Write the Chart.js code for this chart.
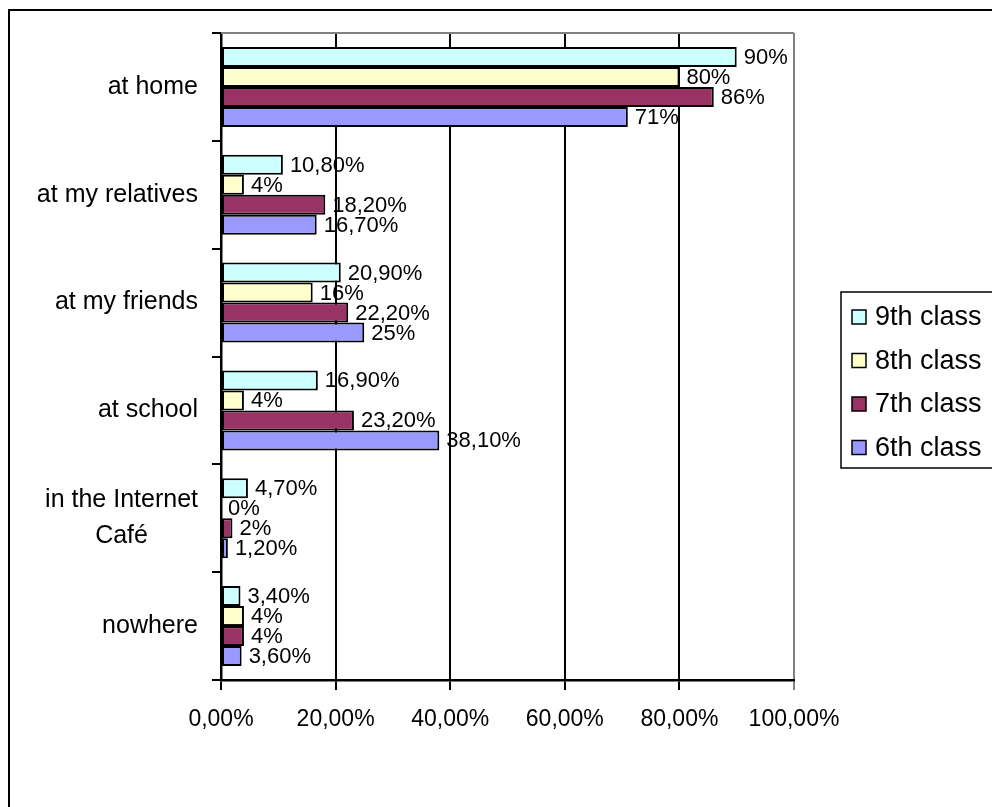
<!DOCTYPE html>
<html>
<head>
<meta charset="utf-8">
<title>Where pupils use the Internet</title>
<script src="https://cdn.jsdelivr.net/npm/chart.js@4.4.1/dist/chart.umd.min.js"></script>
<style>
  body { margin: 0; background: #fff; }
  canvas { display: block; }
</style>
</head>
<body>
<canvas id="placesChart" width="992" height="807"></canvas>
<script>
// places, top to bottom
const places = ['at home', 'at my relatives', 'at my friends', 'at school', ['in the Internet', 'Café'], 'nowhere'];
const classNames = ['9th class', '8th class', '7th class', '6th class'];

// percent of pupils per class
const class9 = [90, 10.8, 20.9, 16.9, 4.7, 3.4];
const class8 = [80, 4, 16, 4, 0, 4];
const class7 = [86, 18.2, 22.2, 23.2, 2, 4];
const class6 = [71, 16.7, 25, 38.1, 1.2, 3.6];

const xTicks = [0, 20, 40, 60, 80, 100];
const colors = ['#CCFFFF', '#FFFFCC', '#993366', '#9999FF'];

const FONT = 'Arial, "Liberation Sans", sans-serif';
Chart.defaults.font.family = FONT;
Chart.defaults.color = '#000';

// 10.8 -> "10,80%", 90 -> "90%"
function valueLabel(v) {
    return (Number.isInteger(v) ? String(v) : v.toFixed(2).replace('.', ',')) + '%';
}
function tickLabel(v) {
    return v.toFixed(2).replace('.', ',') + '%';
}

const extras = {
    id: 'extras',
    beforeDraw(chart) {
        const ctx = chart.ctx;
        ctx.save();
        ctx.fillStyle = '#fff';
        ctx.fillRect(0, 0, chart.width, chart.height);
        // outer frame
        ctx.strokeStyle = '#000';
        ctx.lineWidth = 2;
        ctx.beginPath();
        ctx.moveTo(9, chart.height + 5);
        ctx.lineTo(9, 10);
        ctx.lineTo(chart.width + 5, 10);
        ctx.stroke();
        ctx.restore();
    },
    afterDatasetsDraw(chart) {
        const ctx = chart.ctx;
        ctx.save();
        ctx.font = '22px ' + FONT;
        ctx.fillStyle = '#000';
        ctx.textAlign = 'left';
        ctx.textBaseline = 'middle';
        chart.data.datasets.forEach((ds, i) => {
            chart.getDatasetMeta(i).data.forEach((bar, j) => {
                ctx.fillText(valueLabel(ds.data[j]), bar.x + 7, bar.y + 1);
            });
        });
        ctx.restore();
    },
    afterDraw(chart) {
        const ctx = chart.ctx;
        const area = chart.chartArea;
        const yScale = chart.scales.y;
        ctx.save();

        // plot frame top
        ctx.strokeStyle = '#808080';
        ctx.lineWidth = 2;
        ctx.beginPath();
        ctx.moveTo(area.left, area.top);
        ctx.lineTo(area.right, area.top);
        ctx.stroke();

        // category labels
        ctx.fillStyle = '#000';
        ctx.font = '25px ' + FONT;
        ctx.textBaseline = 'middle';
        const labelRight = 198;
        places.forEach((p, i) => {
            const y = yScale.getPixelForValue(i);
            if (Array.isArray(p)) {
                const w = Math.max(...p.map(s => ctx.measureText(s).width));
                ctx.textAlign = 'center';
                p.forEach((line, k) => {
                    ctx.fillText(line, labelRight - w / 2, y + (k - (p.length - 1) / 2) * 36);
                });
            } else {
                ctx.textAlign = 'right';
                ctx.fillText(p, labelRight, y);
            }
        });

        // legend
        ctx.strokeStyle = '#000';
        ctx.lineWidth = 1.5;
        ctx.strokeRect(841, 292, 200, 176);
        ctx.font = '27px ' + FONT;
        ctx.textAlign = 'left';
        chart.data.datasets.forEach((ds, i) => {
            const cy = 317 + i * 43.5;
            ctx.fillStyle = ds.backgroundColor;
            ctx.fillRect(852, cy - 7, 14, 14);
            ctx.strokeRect(852, cy - 7, 14, 14);
            ctx.fillStyle = '#000';
            ctx.fillText(ds.label, 875, cy + 1);
        });
        ctx.restore();
    }
};

const seriesValues = [class9, class8, class7, class6];

new Chart(document.getElementById('placesChart'), {
    type: 'bar',
    data: {
        labels: places,
        datasets: seriesValues.map((vals, i) => ({
            label: classNames[i],
            data: vals,
            backgroundColor: colors[i],
            borderColor: '#000',
            borderWidth: 2,
            borderSkipped: false,
            categoryPercentage: 0.742,
            barPercentage: 1
        }))
    },
    options: {
        indexAxis: 'y',
        responsive: false,
        animation: false,
        layout: { padding: { top: 33, right: 198, left: 0, bottom: 0 } },
        plugins: {
            legend: { display: false },
            tooltip: { enabled: false }
        },
        scales: {
            x: {
                min: 0,
                max: 100,
                afterBuildTicks: s => { s.ticks = xTicks.map(v => ({ value: v })); },
                afterFit: s => { s.height = 127; },
                ticks: {
                    callback: v => tickLabel(v),
                    font: { size: 23 },
                    color: '#000',
                    padding: 16,
                    maxRotation: 0,
                    autoSkip: false
                },
                grid: {
                    color: c => (c.tick && c.tick.value === 100 ? '#808080' : '#000'),
                    lineWidth: 2,
                    tickLength: 10
                },
                border: { color: '#000', width: 2.5 }
            },
            y: {
                afterFit: s => { s.width = 221; },
                ticks: { display: false },
                grid: {
                    drawOnChartArea: false,
                    offset: true,
                    tickLength: 9,
                    color: '#000',
                    lineWidth: 2
                },
                border: { color: '#000', width: 2.5 }
            }
        }
    },
    plugins: [extras]
});
</script>
</body>
</html>
